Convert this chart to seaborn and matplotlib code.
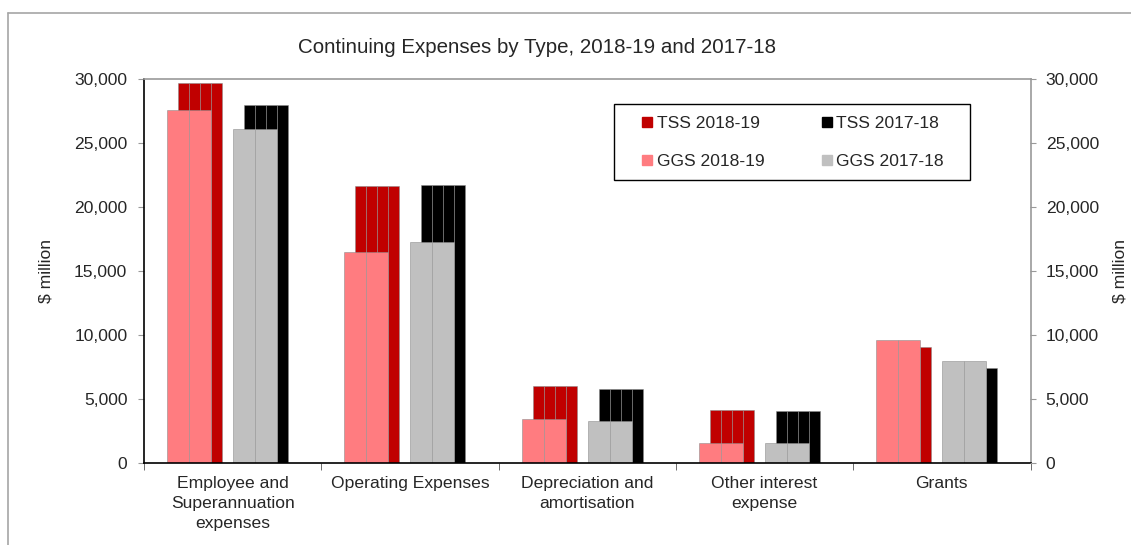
import matplotlib
matplotlib.use("Agg")
import matplotlib.pyplot as plt
from matplotlib.lines import Line2D
from matplotlib.patches import Rectangle
from matplotlib.ticker import FuncFormatter, MultipleLocator, FixedLocator
import seaborn as sns
import pandas as pd

# Continuing expenses ($ million)
categories = [
    "Employee and\nSuperannuation\nexpenses",
    "Operating Expenses",
    "Depreciation and\namortisation",
    "Other interest\nexpense",
    "Grants",
]
tss_2018_19 = [29720, 21650, 6020, 4150, 9070]
tss_2017_18 = [27980, 21700, 5790, 4080, 7430]
ggs_2018_19 = [27600, 16480, 3400, 1530, 9590]
ggs_2017_18 = [26060, 17260, 3270, 1580, 8000]

series_names = ["TSS 2018-19", "TSS 2017-18", "GGS 2018-19", "GGS 2017-18"]
series_values = [tss_2018_19, tss_2017_18, ggs_2018_19, ggs_2017_18]
colors = {"TSS 2018-19": "#C00000", "TSS 2017-18": "#000000",
          "GGS 2018-19": "#FF7C80", "GGS 2017-18": "#C0C0C0"}
# bar centre offsets within each category slot, and bar width
offsets = {"GGS 2018-19": -0.246, "TSS 2018-19": -0.184,
           "GGS 2017-18": 0.126, "TSS 2017-18": 0.188}
bar_w = 0.248
layer = {"TSS 2018-19": 2, "TSS 2017-18": 2, "GGS 2018-19": 4, "GGS 2017-18": 4}
dividers = {"TSS 2018-19": [0.25, 0.5, 0.75], "TSS 2017-18": [0.25, 0.5, 0.75],
            "GGS 2018-19": [0.5], "GGS 2017-18": [0.5]}

df = pd.DataFrame([
    {"category": c, "series": s, "value": v}
    for s, vals in zip(series_names, series_values)
    for c, v in zip(categories, vals)
])

sns.set_style("white")
plt.rcParams["font.family"] = ["Liberation Sans", "DejaVu Sans"]
FS = 12.6

fig = plt.figure(figsize=(11.31, 5.45), dpi=100)
ax = fig.add_axes([144 / 1131, 82 / 545, 886.5 / 1131, 384 / 545])

sns.barplot(data=df, x="category", y="value", hue="series", order=categories,
            hue_order=series_names, palette=colors, ax=ax, legend=False,
            errorbar=None, saturation=1)

for name, cont in zip(series_names, ax.containers):
    for i, bar in enumerate(cont):
        bar.set_x(i + offsets[name] - bar_w / 2)
        bar.set_width(bar_w)
        bar.set_zorder(layer[name])
        bar.set_edgecolor((0.55, 0.55, 0.55, 0.55))
        bar.set_linewidth(0.7)
        x0, h = bar.get_x(), bar.get_height()
        for f in dividers[name]:
            ax.vlines(x0 + f * bar_w, 0, h, colors=[(0.6, 0.6, 0.6, 0.7)],
                      linewidth=0.7, zorder=layer[name] + 0.5)

ax.set_xlim(-0.5, 4.5)
ax.set_ylim(0, 30000)
ax.yaxis.set_major_locator(MultipleLocator(5000))
fmt = FuncFormatter(lambda v, p: f"{int(v):,}")
ax.yaxis.set_major_formatter(fmt)

ax.set_xlabel("")
ax.set_ylabel("$ million", fontsize=FS)
ax.yaxis.set_label_coords(-0.102, 0.5)
ax.set_xticks(range(len(categories)))
ax.set_xticklabels(categories, linespacing=1.4, va="top")
ax.xaxis.set_minor_locator(FixedLocator([-0.5, 0.5, 1.5, 2.5, 3.5, 4.5]))
ax.tick_params(axis="x", which="major", length=0, labelsize=FS, pad=9.5)
ax.tick_params(axis="x", which="minor", length=5, color="#555555", direction="out",
               bottom=True)
ax.tick_params(axis="y", length=4, color="#999999", direction="out", left=True,
               labelsize=FS, pad=8)

for side in ["left", "bottom"]:
    ax.spines[side].set_color("black")
    ax.spines[side].set_linewidth(1.2)
for side in ["top", "right"]:
    ax.spines[side].set_color("#999999")
    ax.spines[side].set_linewidth(1.2)
ax.spines["bottom"].set_zorder(6)

ax2 = ax.twinx()
ax2.set_ylim(ax.get_ylim())
ax2.yaxis.set_major_locator(MultipleLocator(5000))
ax2.yaxis.set_major_formatter(fmt)
ax2.tick_params(axis="y", length=4, color="#999999", direction="out", right=True,
                labelsize=FS, pad=7)
ax2.set_ylabel("$ million", fontsize=FS)
ax2.yaxis.set_label_coords(1.093, 0.5)
for s in ax2.spines.values():
    s.set_visible(False)

fig.text(537 / 1131, 1 - 47 / 545, "Continuing Expenses by Type, 2018-19 and 2017-18",
         ha="center", va="center", fontsize=14.8)

handles = [Line2D([], [], linestyle="none", marker="s", markersize=7,
                  markerfacecolor=colors[n], markeredgecolor=colors[n], label=n)
           for n in ["TSS 2018-19", "GGS 2018-19", "TSS 2017-18", "GGS 2017-18"]]
fig.legend(handles=handles, ncol=2, loc="center",
           bbox_to_anchor=(793 / 1131, 1 - 142.5 / 545), frameon=False,
           fontsize=FS, handlelength=0.6, handletextpad=0.25,
           columnspacing=3.25, labelspacing=1.28, borderpad=0, borderaxespad=0)
# legend box
fig.add_artist(Rectangle((614 / 1131, 1 - 180 / 545), 356 / 1131, 76 / 545,
                         transform=fig.transFigure, fill=False,
                         edgecolor="black", linewidth=1.0))

# outer chart border
fig.add_artist(Line2D([8 / 1131, 8 / 1131], [0, 1 - 13 / 545], color="#a6a6a6",
                      linewidth=1.2, transform=fig.transFigure))
fig.add_artist(Line2D([8 / 1131, 1], [1 - 13 / 545, 1 - 13 / 545], color="#a6a6a6",
                      linewidth=1.2, transform=fig.transFigure))

fig.savefig("out.png", dpi=100)
